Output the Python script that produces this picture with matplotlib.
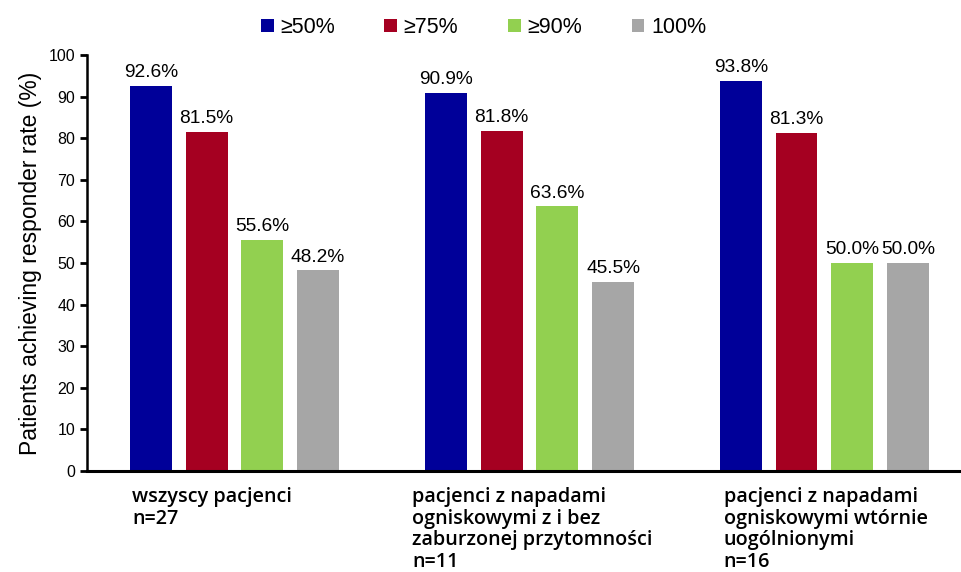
import numpy as np
import matplotlib.pyplot as plt

# data
groups = ['wszyscy pacjenci\nn=27',
          'pacjenci z napadami\nogniskowymi z i bez\nzaburzonej przytomności\nn=11',
          'pacjenci z napadami\nogniskowymi wtórnie\nuogólnionymi\nn=16']
series = ['≥50%', '≥75%', '≥90%', '100%']
rate_50 = [92.6, 90.9, 93.8]
rate_75 = [81.5, 81.8, 81.3]
rate_90 = [55.6, 63.6, 50.0]
rate_100 = [48.2, 45.5, 50.0]
colors = ['#000099', '#A50021', '#92D050', '#A6A6A6']

values = [rate_50, rate_75, rate_90, rate_100]

plt.rcParams['font.family'] = ['Liberation Sans', 'DejaVu Sans']
fig = plt.figure(figsize=(9.61, 5.72), dpi=100)
ax = fig.add_axes([0.0905, 0.1766, 0.9095, 0.7272])

x = np.arange(len(groups))
width = 0.142
pitch = 0.189
for k, (name, vals) in enumerate(zip(series, values)):
    pos = x + (k - 1.5) * pitch
    bars = ax.bar(pos, vals, width, color=colors[k], label=name, zorder=2)
    for b, v in zip(bars, vals):
        ax.annotate(f'{v:.1f}%', (b.get_x() + b.get_width() / 2, v),
                    xytext=(0, 3.5), textcoords='offset points',
                    ha='center', va='bottom', fontsize=13.8)

ax.set_xlim(-0.5, 2.463)
ax.set_ylim(0, 100)
ax.set_yticks(np.arange(0, 101, 10))
ax.tick_params(axis='y', labelsize=11.5, length=5, width=2, direction='out')
ax.set_xticks([])
ax.spines['top'].set_visible(False)
ax.spines['right'].set_visible(False)
ax.spines['left'].set_linewidth(1.8)
ax.spines['bottom'].set_linewidth(2.2)
ax.set_ylabel('Patients achieving responder rate (%)', fontsize=16.5, labelpad=5)

# category labels under the axis
offsets = [-0.347, -0.398, -0.342]
for i, g in enumerate(groups):
    ax.text(i + offsets[i], -3.8, g, ha='left', va='top', fontsize=14.2,
            family='Open Sans', weight=600, linespacing=1.12)

fig.legend(loc='center', bbox_to_anchor=(0.503, 0.952), ncol=4, frameon=False,
           fontsize=15.5, handlelength=0.6, handleheight=0.6, handletextpad=0.3,
           columnspacing=2.3)

plt.savefig('out.png')
